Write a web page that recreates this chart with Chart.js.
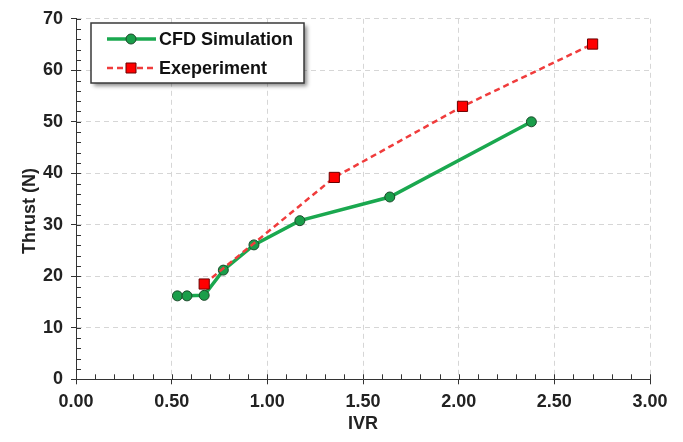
<!DOCTYPE html>
<html><head><meta charset="utf-8">
<script src="https://cdn.jsdelivr.net/npm/chart.js@4/dist/chart.umd.min.js"></script>
<style>html,body{margin:0;padding:0;background:#fff}#wrap{width:683px;height:442px}</style>
</head><body><div id="wrap"><canvas id="c" width="683" height="442"></canvas></div>
<script>
const seriesNames = ["CFD Simulation", "Exeperiment"];
const cfdIVR = [0.53, 0.58, 0.67, 0.77, 0.93, 1.17, 1.64, 2.38];
const cfdThrust = [16.2, 16.2, 16.3, 21.2, 26.1, 30.8, 35.4, 50.0];
const expIVR = [0.67, 1.35, 2.02, 2.70];
const expThrust = [18.5, 39.2, 53.0, 65.1];
const xTicks = [0, 0.5, 1.0, 1.5, 2.0, 2.5, 3.0];
const yTicks = [0, 10, 20, 30, 40, 50, 60, 70];
const xTitle = "IVR";
const yTitle = "Thrust (N)";

const FONT = '"Liberation Sans", Arial, sans-serif';
const GREEN = '#1aa84f';
const RED = '#f03c3c';

const toPts = (xs, ys) => xs.map((x, i) => ({x: x, y: ys[i]}));

const overlay = {
  id: 'overlay',
  afterDraw(chart) {
    const ctx = chart.ctx;
    const xs = chart.scales.x, ys = chart.scales.y;
    const ca = chart.chartArea;
    ctx.save();
    // inner ticks (major + minor)
    ctx.strokeStyle = '#333';
    ctx.lineWidth = 1;
    ctx.beginPath();
    for (let i = 0; i <= 30; i++) {
      const px = Math.round(xs.getPixelForValue(i / 10)) + 0.5;
      ctx.moveTo(px, ca.bottom); ctx.lineTo(px, ca.bottom - 5);
    }
    for (let i = 0; i <= 35; i++) {
      const py = Math.round(ys.getPixelForValue(i * 2)) + 0.5;
      ctx.moveTo(ca.left, py); ctx.lineTo(ca.left + 5, py);
    }
    ctx.stroke();

    // axis titles
    ctx.fillStyle = '#222';
    ctx.font = 'bold 18px ' + FONT;
    ctx.textAlign = 'center';
    ctx.textBaseline = 'middle';
    ctx.fillText(xTitle, (ca.left + ca.right) / 2, 424);
    ctx.save();
    ctx.translate(30, 211);
    ctx.rotate(-Math.PI / 2);
    ctx.fillText(yTitle, 0, 0);
    ctx.restore();

    // legend box
    const bx = 91, by = 23, bw = 213, bh = 60;
    ctx.save();
    ctx.shadowColor = 'rgba(0,0,0,0.45)';
    ctx.shadowOffsetX = 3; ctx.shadowOffsetY = 3; ctx.shadowBlur = 4;
    ctx.fillStyle = '#fff';
    ctx.fillRect(bx, by, bw, bh);
    ctx.restore();
    ctx.strokeStyle = '#3a3a3a';
    ctx.lineWidth = 1.5;
    ctx.strokeRect(bx, by, bw, bh);

    const ds = chart.data.datasets;
    const rows = [39, 68];
    rows.forEach((ry, i) => {
      const d = ds[i];
      ctx.save();
      ctx.strokeStyle = d.borderColor;
      ctx.lineWidth = d.borderWidth;
      ctx.setLineDash(d.borderDash || []);
      ctx.beginPath();
      ctx.moveTo(107, ry); ctx.lineTo(156, ry);
      ctx.stroke();
      ctx.setLineDash([]);
      ctx.fillStyle = d.pointBackgroundColor;
      ctx.strokeStyle = d.pointBorderColor;
      ctx.lineWidth = d.pointBorderWidth;
      if (d.pointStyle === 'rect') {
        ctx.beginPath(); ctx.rect(126, ry - 5, 10, 10); ctx.fill(); ctx.stroke();
      } else {
        ctx.beginPath(); ctx.arc(131, ry, 5, 0, Math.PI * 2); ctx.fill(); ctx.stroke();
      }
      ctx.restore();
      ctx.fillStyle = '#111';
      ctx.font = 'bold 18px ' + FONT;
      ctx.textAlign = 'left';
      ctx.textBaseline = 'middle';
      ctx.fillText(d.label, 159, ry + 1);
    });
    ctx.restore();
  }
};

new Chart(document.getElementById('c'), {
  type: 'line',
  data: {
    datasets: [
      {
        label: seriesNames[0],
        data: toPts(cfdIVR, cfdThrust),
        borderColor: GREEN, borderWidth: 3.5,
        pointStyle: 'circle', pointRadius: 5,
        pointBackgroundColor: '#1a9e4a', pointBorderColor: '#1d4a2c', pointBorderWidth: 1,
        order: 1, tension: 0
      },
      {
        label: seriesNames[1],
        data: toPts(expIVR, expThrust),
        borderColor: RED, borderWidth: 2.5, borderDash: [6, 4],
        pointStyle: 'rect', pointRadius: 7.2,
        pointBackgroundColor: '#ff0000', pointBorderColor: '#6a0000', pointBorderWidth: 1,
        order: 0, tension: 0
      }
    ]
  },
  options: {
    responsive: false,
    animation: false,
    devicePixelRatio: 1,
    layout: {padding: {left: 0, right: 33, top: 17, bottom: 0}},
    plugins: {legend: {display: false}, tooltip: {enabled: false}, title: {display: false}},
    scales: {
      x: {
        type: 'linear', min: 0, max: 3,
        afterBuildTicks: s => { s.ticks = xTicks.map(v => ({value: v})); },
        afterFit: s => { s.height = 62.7; },
        ticks: {color: '#222', font: {family: FONT, size: 18, weight: 'bold'}, padding: 7,
                maxRotation: 0, callback: v => Number(v).toFixed(2)},
        grid: {color: '#d6d6d6', lineWidth: 1, tickLength: 5, tickColor: '#333', tickBorderDash: []},
        border: {display: true, color: '#333', width: 1, dash: [5, 4]}
      },
      y: {
        type: 'linear', min: 0, max: 70,
        afterBuildTicks: s => { s.ticks = yTicks.map(v => ({value: v})); },
        afterFit: s => { s.width = 76; },
        ticks: {color: '#222', font: {family: FONT, size: 18, weight: 'bold'}, padding: 8},
        grid: {color: '#d6d6d6', lineWidth: 1, tickLength: 5, tickColor: '#333', tickBorderDash: []},
        border: {display: true, color: '#333', width: 1, dash: [5, 4]}
      }
    }
  },
  plugins: [overlay]
});
</script>
</body></html>
